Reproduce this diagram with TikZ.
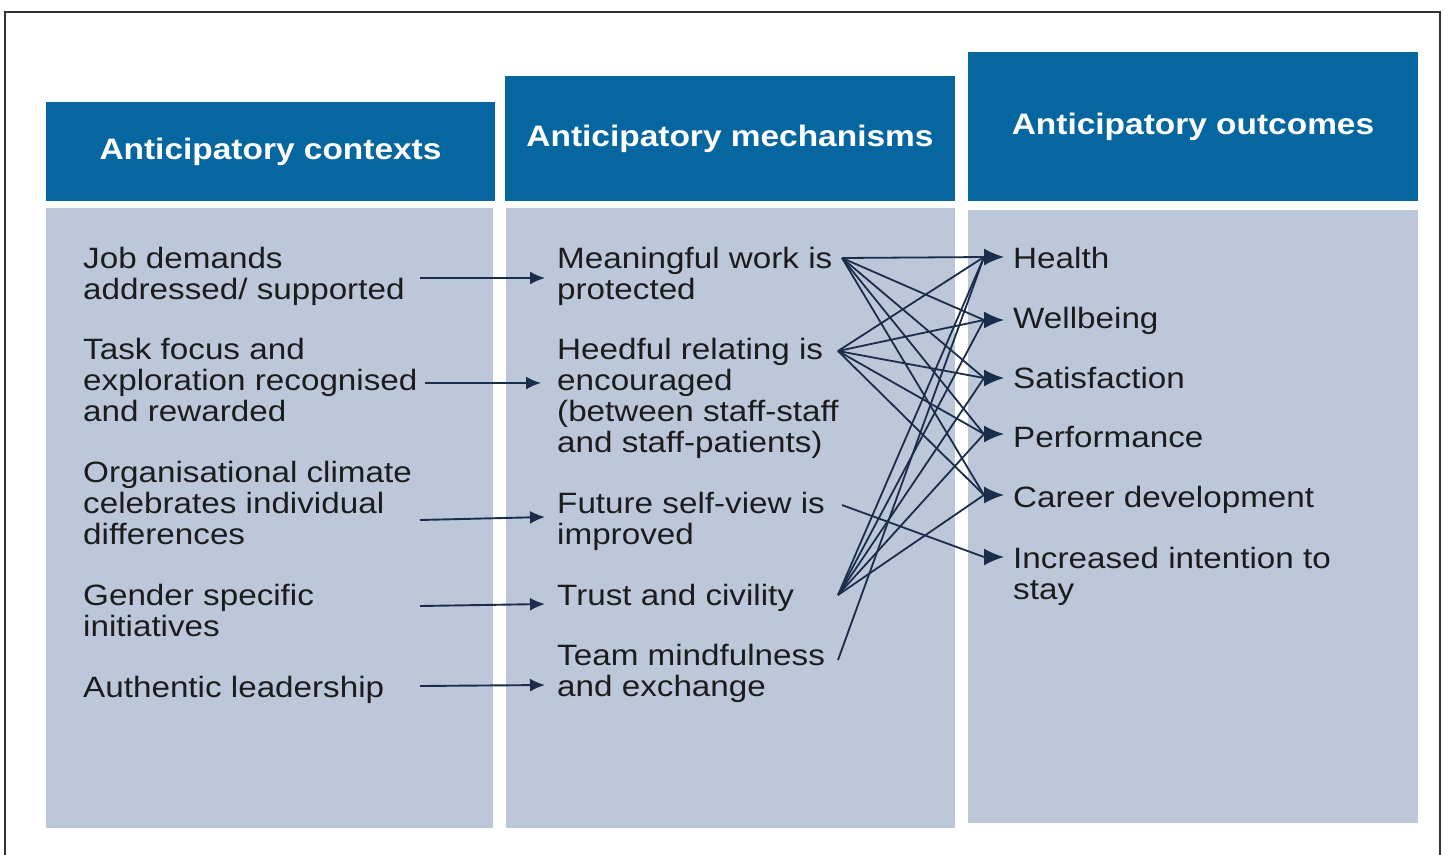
\documentclass[tikz,border=0pt]{standalone}
\usepackage{fontspec}
\setmainfont[FakeStretch=1.13]{Liberation Sans}
\usetikzlibrary{arrows.meta}

\definecolor{headblue}{RGB}{6,103,160}
\definecolor{panelgrey}{RGB}{188,199,217}
\definecolor{linknavy}{RGB}{26,46,76}
\definecolor{bodytext}{RGB}{28,28,30}
\definecolor{framegrey}{RGB}{50,50,50}

\begin{document}
\begin{tikzpicture}[x=1pt,y=-1pt,
  header/.style={fill=headblue,draw=none,text=white,inner sep=0pt,
    font=\fontsize{29.6}{31}\selectfont\bfseries},
  panel/.style={fill=panelgrey,draw=none,inner sep=0pt},
  % multi-line blocks are placed by the baseline of their last line
  item/.style={anchor=base west,align=left,inner sep=0pt,text=bodytext,
    font=\fontsize{29.4}{31.2}\selectfont},
  feed/.style={draw=linknavy,line width=1.9pt,-{Latex[length=15pt,width=13pt]}},
  link/.style={draw=linknavy,line width=1.8pt},
  tiphead/.style={draw=linknavy,line width=1.8pt,-{Latex[length=20pt,width=17pt]}}]

\useasboundingbox (0,0) rectangle (1445,854);
\fill[white] (0,0) rectangle (1445,854);

% outer frame (open at the bottom)
\draw[framegrey,line width=1.3pt] (5,860) -- (5,12) -- (1440,12) -- (1440,860);

% column panels
\node[panel,minimum width=447pt,minimum height=620pt] (bodyA) at (269.5,518) {};
\node[panel,minimum width=449pt,minimum height=620pt] (bodyB) at (730.5,518) {};
\node[panel,minimum width=450pt,minimum height=613pt] (bodyC) at (1193,516.5) {};

% column headers
\node[header,minimum width=449pt,minimum height=99pt] (headA) at (270.5,151.5) {Anticipatory contexts};
\node[header,minimum width=450pt,minimum height=125pt] (headB) at (730,138.5) {Anticipatory mechanisms};
\node[header,minimum width=450pt,minimum height=149pt] (headC) at (1193,126.5) {Anticipatory outcomes};

% contexts
\node[item] (jd) at (83,299.2) {Job demands\\addressed/ supported};
\node[item] (tf) at (83,421.4) {Task focus and\\exploration recognised\\and rewarded};
\node[item] (oc) at (83,544.4) {Organisational climate\\celebrates individual\\differences};
\node[item] (gs) at (83,636.2) {Gender specific\\initiatives};
\node[item] (al) at (83,697) {Authentic leadership};

% mechanisms
\node[item] (mw) at (557,299.2) {Meaningful work is\\protected};
\node[item] (hr) at (557,452.6) {Heedful relating is\\encouraged\\(between staff-staff\\and staff-patients)};
\node[item] (fs) at (557,544.2) {Future self-view is\\improved};
\node[item] (tc) at (557,605) {Trust and civility};
\node[item] (tm) at (557,696.2) {Team mindfulness\\and exchange};

% outcomes
\node[item] (oH) at (1013,268) {Health};
\node[item] (oW) at (1013,328) {Wellbeing};
\node[item] (oS) at (1013,388) {Satisfaction};
\node[item] (oP) at (1013,447) {Performance};
\node[item] (oC) at (1013,507) {Career development};
\node[item] (oI) at (1013,599.2) {Increased intention to\\stay};

% context -> mechanism connectors
\coordinate (jdR) at (420,278);  \coordinate (mwL) at (545,278);
\coordinate (tfR) at (425,383);  \coordinate (hrL) at (541,383);
\coordinate (ocR) at (420,520);  \coordinate (fsL) at (545,517);
\coordinate (gsR) at (420,606);  \coordinate (tcL) at (545,604);
\coordinate (alR) at (420,686);  \coordinate (tmL) at (545,685);
\draw[feed] (jdR) -- (mwL);
\draw[feed] (tfR) -- (hrL);
\draw[feed] (ocR) -- (fsL);
\draw[feed] (gsR) -- (tcL);
\draw[feed] (alR) -- (tmL);

% mechanism exit points
\coordinate (mwR) at (842,258);
\coordinate (hrR) at (838,351);
\coordinate (fsR) at (842,505);
\coordinate (tcR) at (838,595);
\coordinate (tmR) at (838,660);

% outcome arrowheads: base and tip
\foreach \n/\y in {H/257,W/320,S/378,P/434,C/495,I/557}{
  \coordinate (in\n) at (984,\y);
  \coordinate (tip\n) at (1004,\y);
}

% mechanism -> outcome links
\foreach \s in {mwR,hrR,tcR}{
  \foreach \t in {H,W,S,P,C}{
    \draw[link] (\s) -- (in\t);
  }
}
\draw[link] (fsR) -- (inI);
\draw[link] (tmR) -- (inH);

\foreach \t in {H,W,S,P,C,I}{
  \draw[tiphead] (in\t) -- (tip\t);
}
\end{tikzpicture}
\end{document}
